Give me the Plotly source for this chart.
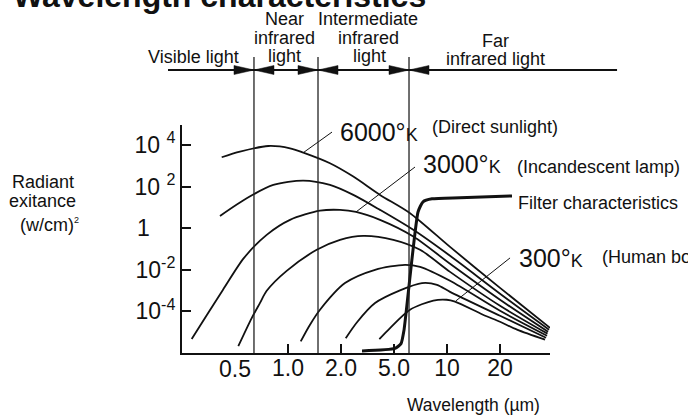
import plotly.graph_objects as go

# ---------------- data (x in tick-slot units: 0.5,1.0,2.0,5.0,10,20 um -> 0..5 ; y as log10 exponent) -------------
tick_slots = [1, 2, 3, 4, 5]
tick_text = ["1.0", "2.0", "5.0", "10", "20"]
first_slot = [0]
first_text = ["0.5"]

y_tickvals = [1e4, 1e2, 1, 1e-2, 1e-4]
y_ticktext = ["10\u00a0<sup>4</sup>", "10\u00a0<sup>2</sup>", "1\u00a0\u00a0\u00a0\u00a0", "10<sup>-2</sup>", "10<sup>-4</sup>"]

c6000_x = [-0.251, 0.094, 0.628, 1.038, 1.289, 1.792, 2.232, 2.736, 3.302, 4.057, 5.0, 5.943]
c6000_e = [3.41, 3.68, 3.95, 3.84, 3.63, 3.12, 2.48, 1.60, 0.72, -0.90, -2.87, -4.79]

c2_x = [-0.283, 0.221, 0.723, 1.289, 1.792, 2.232, 2.736, 3.364, 4.057, 5.0, 5.925]
c2_e = [0.59, 1.44, 2.08, 2.29, 2.08, 1.60, 0.88, -0.08, -1.33, -3.15, -4.88]

c3000_x = [-0.817, -0.528, -0.226, 0.170, 0.598, 1.038, 1.604, 1.981, 2.283, 2.736, 3.364, 4.057, 5.0, 5.906]
c3000_e = [-5.33, -4.16, -2.96, -1.43, -0.32, 0.40, 0.84, 0.88, 0.78, 0.40, -0.40, -1.71, -3.44, -4.98]

c4_x = [0.062, 0.315, 0.472, 0.598, 0.975, 1.542, 1.981, 2.421, 2.987, 3.491, 4.057, 5.0, 5.896]
c4_e = [-5.67, -4.32, -3.59, -3.01, -2.05, -1.04, -0.56, -0.37, -0.56, -1.04, -2.10, -3.73, -5.07]

c5_x = [1.240, 1.415, 1.604, 2.075, 2.642, 3.208, 3.491, 4.057, 5.0, 5.887]
c5_e = [-5.44, -4.64, -3.92, -2.64, -2.00, -1.76, -1.86, -2.53, -3.97, -5.17]

c6_x = [2.089, 2.302, 2.642, 3.113, 3.528, 3.811, 4.057, 5.0, 5.868]
c6_e = [-5.29, -4.52, -3.60, -2.99, -2.64, -2.72, -3.06, -4.21, -5.27]

c300_x = [2.723, 2.925, 3.302, 3.742, 3.994, 4.151, 4.679, 5.0, 5.321, 5.849]
c300_e = [-5.33, -4.80, -3.92, -3.48, -3.44, -3.53, -4.16, -4.50, -4.88, -5.36]

filter_x = [2.396, 3.019, 3.132, 3.189, 3.453, 3.547, 3.717, 4.245, 5.226]
filter_e = [-5.90, -5.78, -5.55, -4.89, 0.78, 1.27, 1.41, 1.46, 1.55]

# leader lines (label pointers)
lead6000 = ([1.283, 1.830], [3.62, 4.62])
lead3000 = ([2.283, 3.396], [0.78, 2.94])
lead300 = ([4.170, 5.189], [-3.49, -1.43])

# spectral region boundaries (slot units) and arrow line extent
region_bounds = [0.358, 1.566, 3.283]
arrow_span = [-1.264, 7.208]

X_MIN, X_MAX = -1.0, 5.943
Y_MIN, Y_MAX = -6.0, 4.96

FONT = "Liberation Sans, Arial, Helvetica, sans-serif"
BLACK = "#111111"


def pxr(u):
    return (u - X_MIN) / (X_MAX - X_MIN)


fig = go.Figure()

curves = [(c6000_x, c6000_e), (c2_x, c2_e), (c3000_x, c3000_e), (c4_x, c4_e),
          (c5_x, c5_e), (c6_x, c6_e), (c300_x, c300_e)]
for cx, ce in curves:
    fig.add_trace(go.Scatter(x=cx, y=[10 ** e for e in ce], mode="lines",
                             line=dict(color=BLACK, width=1.8, shape="spline", smoothing=0.8),
                             showlegend=False, hoverinfo="skip"))

fig.add_trace(go.Scatter(x=filter_x, y=[10 ** e for e in filter_e], mode="lines",
                         line=dict(color=BLACK, width=3, shape="spline", smoothing=0.5),
                         showlegend=False, hoverinfo="skip"))

for lx, le in (lead6000, lead3000, lead300):
    fig.add_trace(go.Scatter(x=lx, y=[10 ** e for e in le], mode="lines",
                             line=dict(color=BLACK, width=1),
                             showlegend=False, hoverinfo="skip"))

# dummy trace for the secondary x axis carrying the "0.5" label
fig.add_trace(go.Scatter(x=first_slot, y=[None], xaxis="x2", mode="markers",
                         showlegend=False, hoverinfo="skip"))

# ---------------- shapes: boundaries, arrow line, arrowheads -------------
PLOT_H = 228.0
PLOT_W = 368.0
line_top = (353 - 57) / PLOT_H
arrow_y = (353 - 70) / PLOT_H
head_len = 20 / PLOT_W
head_half = 4.5 / PLOT_H

shapes = []
for b in region_bounds:
    shapes.append(dict(type="line", xref="paper", yref="paper", x0=pxr(b), x1=pxr(b),
                       y0=0, y1=line_top, line=dict(color="#222222", width=1.3)))
shapes.append(dict(type="line", xref="paper", yref="paper", x0=pxr(arrow_span[0]), x1=pxr(arrow_span[1]),
                   y0=arrow_y, y1=arrow_y, line=dict(color=BLACK, width=2)))
for b in region_bounds:
    t = pxr(b)
    for d in (-1, 1):
        base = t + d * head_len
        path = f"M{t},{arrow_y} L{base},{arrow_y + head_half} L{base},{arrow_y - head_half} Z"
        shapes.append(dict(type="path", xref="paper", yref="paper", path=path,
                           fillcolor=BLACK, line=dict(color=BLACK, width=0.5)))

# ---------------- annotations -------------
ann = []


def add_text(text, x, y, size, xref="paper", yref="paper", xanchor="center", bold=False):
    ann.append(dict(text=f"<b>{text}</b>" if bold else text, x=x, y=y, xref=xref, yref=yref,
                    xanchor=xanchor, yanchor="middle", showarrow=False,
                    font=dict(family=FONT, size=size, color=BLACK)))


def py(p):
    return (353 - p) / PLOT_H


def pxp(p):
    return (p - 182) / PLOT_W


add_text("Wavelength characteristics", pxp(11), py(-4.2), 32, xanchor="left", bold=True)
add_text("Visible light", pxp(193), py(57), 18)
add_text("Near", pxp(284), py(19), 18)
add_text("infrared", pxp(284), py(37.5), 18)
add_text("light", pxp(284), py(56), 18)
add_text("Intermediate", pxp(368), py(19), 18)
add_text("infrared", pxp(368), py(37.5), 18)
add_text("light", pxp(369), py(56), 18)
add_text("Far", pxp(495), py(41), 18)
add_text("infrared light", pxp(495), py(59), 18)

add_text("Radiant", pxp(43), py(182), 18)
add_text("exitance", pxp(42), py(201), 18)
add_text("(w/cm)<sup><span style='font-size:9px'>2</span></sup>", pxp(49), py(225), 18)
add_text("Wavelength (\u00b5m)", pxp(473), py(405), 17.5)

K = "<span style='font-size:18px'>K</span>"
add_text("6000\u00b0" + K, 1.943, 4.62, 25, xref="x", yref="y", xanchor="left")
add_text("(Direct sunlight)", 3.679, 4.86, 18, xref="x", yref="y", xanchor="left")
add_text("3000\u00b0" + K, 3.509, 3.08, 25, xref="x", yref="y", xanchor="left")
add_text("(Incandescent lamp)", 5.283, 2.94, 18, xref="x", yref="y", xanchor="left")
add_text("Filter characteristics", 5.302, 1.21, 18, xref="x", yref="y", xanchor="left")
add_text("300\u00b0" + K, 5.321, -1.43, 25, xref="x", yref="y", xanchor="left")
add_text("(Human body)", pxp(600), -1.38, 18, xref="paper", yref="y", xanchor="left")

tickfont = dict(family=FONT, size=23, color=BLACK)
fig.update_layout(
    width=688, height=416, autosize=False,
    margin=dict(l=182, r=138, t=125, b=63, pad=0),
    paper_bgcolor="white", plot_bgcolor="white",
    template="none",
    showlegend=False,
    xaxis=dict(range=[X_MIN, X_MAX], tickmode="array", tickvals=tick_slots, ticktext=tick_text,
               ticks="inside", ticklen=9, tickwidth=1.5, tickcolor=BLACK,
               ticklabelstandoff=-7,
               showline=True, linecolor=BLACK, linewidth=2, showgrid=False, zeroline=False,
               tickfont=tickfont, automargin=False, fixedrange=True),
    xaxis2=dict(range=[X_MIN, X_MAX], overlaying="x", anchor="y", side="bottom",
                tickmode="array", tickvals=first_slot, ticktext=first_text, ticks="",
                ticklabelstandoff=0,
                showline=False, showgrid=False, zeroline=False, tickfont=tickfont,
                automargin=False, fixedrange=True),
    yaxis=dict(type="log", range=[Y_MIN, Y_MAX], tickmode="array", tickvals=y_tickvals, ticktext=y_ticktext,
               ticks="inside", ticklen=9, tickwidth=1.5, tickcolor=BLACK,
               showline=True, linecolor=BLACK, linewidth=2, showgrid=False, zeroline=False,
               tickfont=dict(family=FONT, size=23, color=BLACK), automargin=False, fixedrange=True),
    shapes=shapes,
    annotations=ann,
)

fig.write_html("out.html", config={"displayModeBar": False},
               post_script="document.body.style.margin='0';document.body.style.padding='0';")
